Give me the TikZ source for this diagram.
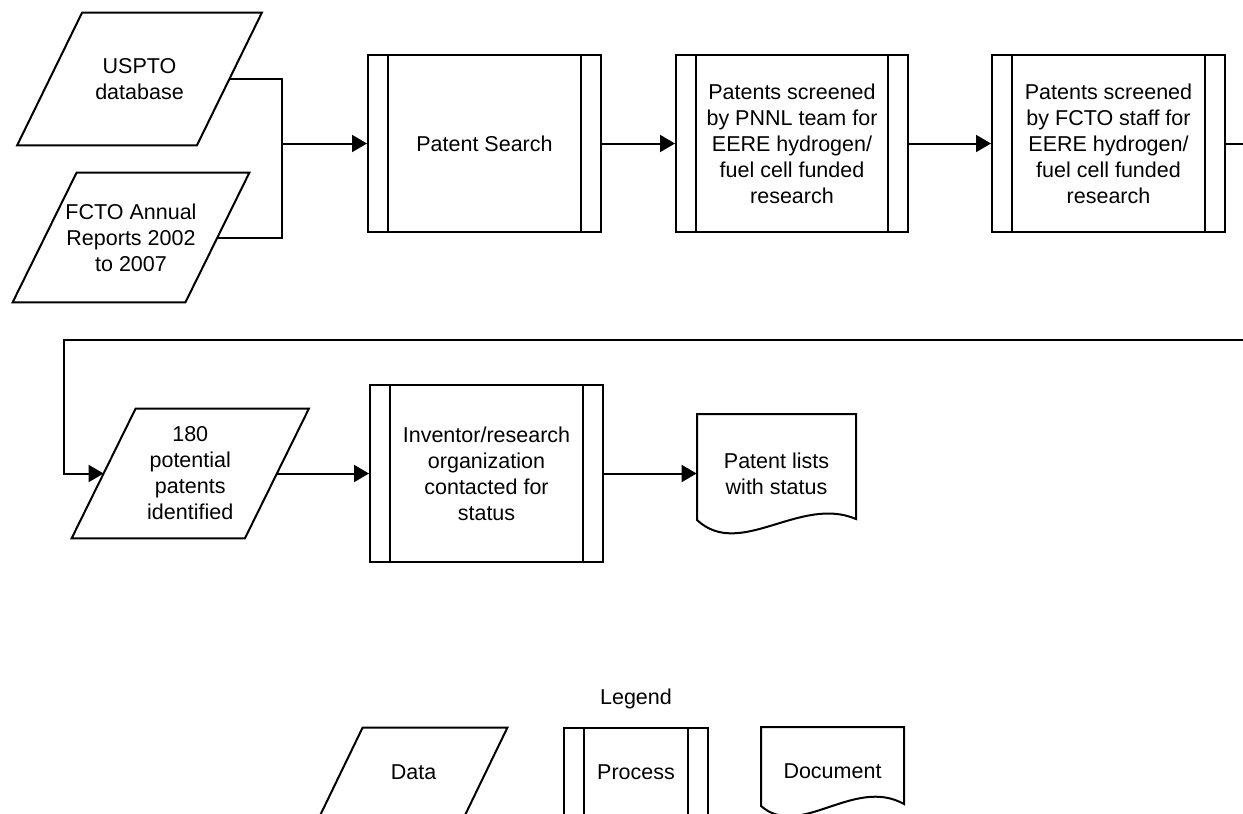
\documentclass[tikz,border=0pt]{standalone}
\usepackage{fontspec}
\setmainfont{Liberation Sans}
\usetikzlibrary{arrows.meta}

\tikzset{
  frame/.style={draw, line width=1pt, line join=miter},
  conn/.style={line width=1pt},
  arr/.style={conn, -{Triangle[length=7.5pt,width=8.5pt]}},
  txt/.style={align=center, inner sep=0pt, font=\fontsize{10.75pt}{13pt}\selectfont},
  data/.style={txt, rectangle},
  doc/.style={txt, rectangle},
  procbox/.style={txt, frame, rectangle,
    path picture={\draw[frame]
      ([xshift=10pt]path picture bounding box.north west) -- ([xshift=10pt]path picture bounding box.south west)
      ([xshift=-10pt]path picture bounding box.north east) -- ([xshift=-10pt]path picture bounding box.south east);}},
}

\begin{document}
\begin{tikzpicture}[x=0.5pt, y=-0.5pt]

\newcommand\dataframe[2]{%% node, half slant
  \draw[frame] ([xshift=#2*0.5pt]#1.north west) -- ([xshift=#2*0.5pt]#1.north east)
    -- ([xshift=-#2*0.5pt]#1.south east) -- ([xshift=-#2*0.5pt]#1.south west) -- cycle;}

\useasboundingbox (0,0) rectangle (1243,814);
\clip (0,0) rectangle (1243,814);

%% inputs
\node[data, minimum width=89.5pt, minimum height=66pt] (us) at (139.5,79) {USPTO\\database};
\dataframe{us}{32.5}
\node[data, minimum width=86pt, minimum height=64.5pt] (fc) at (131,237.5) {FCTO Annual\\Reports 2002\\to 2007};
\dataframe{fc}{32}

%% first row
\node[procbox, minimum width=116.5pt, minimum height=88.5pt] (ps) at (484.5,143.5) {Patent Search};
\node[procbox, minimum width=116pt, minimum height=88.5pt] (pn) at (792,143.5)
  {Patents screened\\by PNNL team for\\EERE hydrogen/\\fuel cell funded\\research};
\node[procbox, minimum width=116.5pt, minimum height=88.5pt] (pf) at (1108.5,143.5)
  {Patents screened\\by FCTO staff for\\EERE hydrogen/\\fuel cell funded\\research};

%% second row
\node[data, minimum width=86.25pt, minimum height=64.5pt] (pp) at (190.25,473.5) {180\\potential\\patents\\identified};
\dataframe{pp}{32}
\node[procbox, minimum width=116.5pt, minimum height=88.5pt] (ic) at (486.5,473.5)
  {Inventor/research\\organization\\contacted for\\status};
\node[doc, minimum width=79.5pt, minimum height=59.5pt] (pl) at (776.5,473.5) {Patent lists\\with status};
\draw[frame] (697,520) -- (697,414) -- (856,414) -- (856,519)
  .. controls (800,495) and (740,560) .. (697,520) -- cycle;

%% connectors
\coordinate (join) at (282,143.5);
\coordinate (turn) at (64,340);
\draw[conn] (us.east) -| (join);
\draw[conn] (fc.east) -| (join);
\draw[arr] (join) -- (ps.west);
\draw[arr] (ps.east) -- (pn.west);
\draw[arr] (pn.east) -- (pf.west);
\draw[arr] (pf.east) -- ++(40,0) |- (turn) |- (pp.west);
\draw[arr] (pp.east) -- (ic.west);
\draw[arr] (ic.east) -- (pl.west);

%% legend
\node[txt] (legend) at (636,699) {Legend};
\node[data, minimum width=72pt, minimum height=44pt] (ldata) at (413.5,772) {Data};
\dataframe{ldata}{21.5}
\node[procbox, minimum width=72pt, minimum height=44pt] (lproc) at (636,772) {Process};
\node[doc, minimum width=71.5pt, minimum height=44pt] (ldoc) at (832.5,771) {Document};
\draw[frame] (761,806) -- (761,727) -- (904,727) -- (904,804)
  .. controls (854,776) and (800,840) .. (761,806) -- cycle;

\end{tikzpicture}
\end{document}
